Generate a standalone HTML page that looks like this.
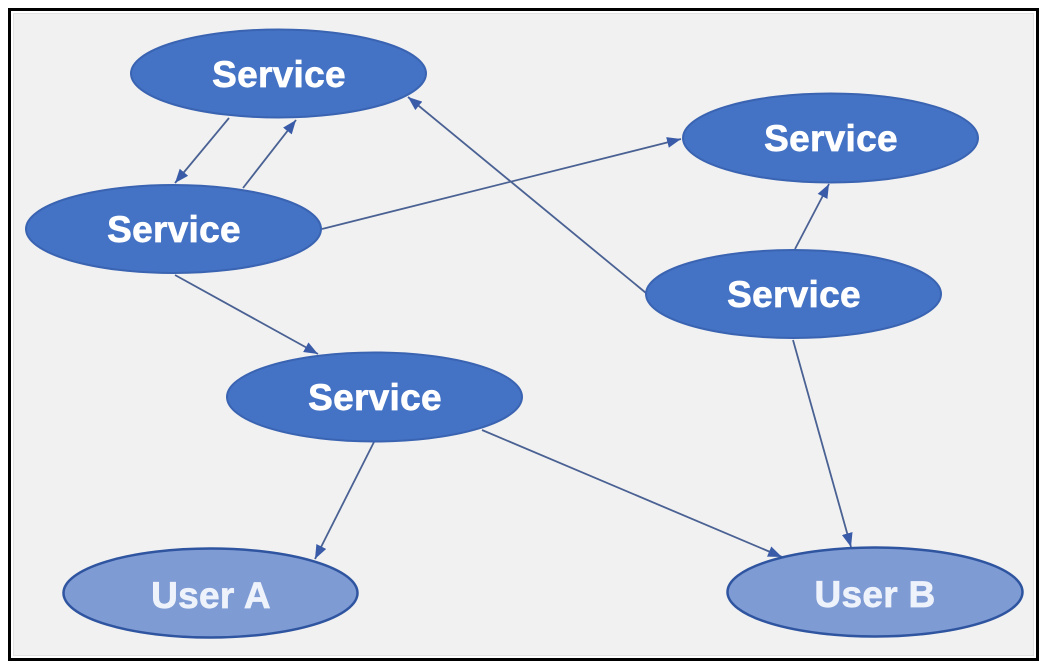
<!DOCTYPE html>
<html>
<head>
<meta charset="utf-8">
<style>
  html, body { margin: 0; padding: 0; background: #ffffff; }
  body { width: 1046px; height: 666px; overflow: hidden; }
  svg { display: block; }
  text { font-family: "Liberation Sans", "DejaVu Sans", sans-serif; font-weight: bold; font-size: 37px; fill: #ffffff; stroke: #ffffff; stroke-width: 0.7px; letter-spacing: 0.3px; }
</style>
</head>
<body>
<svg width="1046" height="666" viewBox="0 0 1046 666" xmlns="http://www.w3.org/2000/svg">
  <defs>
    <marker id="ah" markerUnits="userSpaceOnUse" markerWidth="15" markerHeight="12" refX="14" refY="5.5" orient="auto">
      <path d="M0,0 L14,5.5 L0,11 Z" fill="#3a5ca8"/>
    </marker>
  </defs>

  <!-- frame -->
  <rect x="0" y="0" width="1046" height="666" fill="#ffffff"/>
  <rect x="9.5" y="9.5" width="1028" height="650" fill="#ffffff" stroke="#000000" stroke-width="3"/>
  <rect x="13.5" y="13.5" width="1020" height="642" fill="#f1f1f1" stroke="#e2e2e2" stroke-width="1"/>

  <!-- connectors -->
  <g stroke="#4a6193" stroke-width="1.8" fill="none" marker-end="url(#ah)">
    <line x1="229" y1="118" x2="175" y2="183"/>
    <line x1="243" y1="188" x2="296" y2="120"/>
    <line x1="322" y1="229" x2="681" y2="139"/>
    <line x1="646" y1="293" x2="408" y2="97"/>
    <line x1="795" y1="249" x2="829" y2="184"/>
    <line x1="175" y1="275" x2="318" y2="354"/>
    <line x1="374" y1="442" x2="315" y2="559"/>
    <line x1="482" y1="430" x2="782" y2="557"/>
    <line x1="793" y1="340" x2="851" y2="547"/>
  </g>

  <!-- service nodes -->
  <g fill="#4472c4" stroke="#3a64b2" stroke-width="2">
    <ellipse cx="278.5" cy="73.5" rx="147.5" ry="44"/>
    <ellipse cx="173.5" cy="229" rx="147.5" ry="44"/>
    <ellipse cx="830.5" cy="138" rx="147.5" ry="44.5"/>
    <ellipse cx="793.5" cy="294" rx="147.5" ry="44"/>
    <ellipse cx="374.5" cy="397" rx="147.5" ry="44.5"/>
  </g>

  <!-- user nodes -->
  <g fill="#7f9bd4" stroke="#2f55a0" stroke-width="2.5">
    <ellipse cx="210.5" cy="593" rx="147" ry="44.5"/>
    <ellipse cx="875" cy="592" rx="147.5" ry="44.5"/>
  </g>

  <!-- labels -->
  <g text-anchor="middle">
    <text x="279" y="87">Service</text>
    <text x="174" y="242">Service</text>
    <text x="831" y="151">Service</text>
    <text x="794" y="307">Service</text>
    <text x="375" y="410">Service</text>
    <text x="211" y="608" style="fill:#eef2fb;stroke:#eef2fb">User A</text>
    <text x="875" y="607" style="fill:#eef2fb;stroke:#eef2fb">User B</text>
  </g>
</svg>
</body>
</html>
